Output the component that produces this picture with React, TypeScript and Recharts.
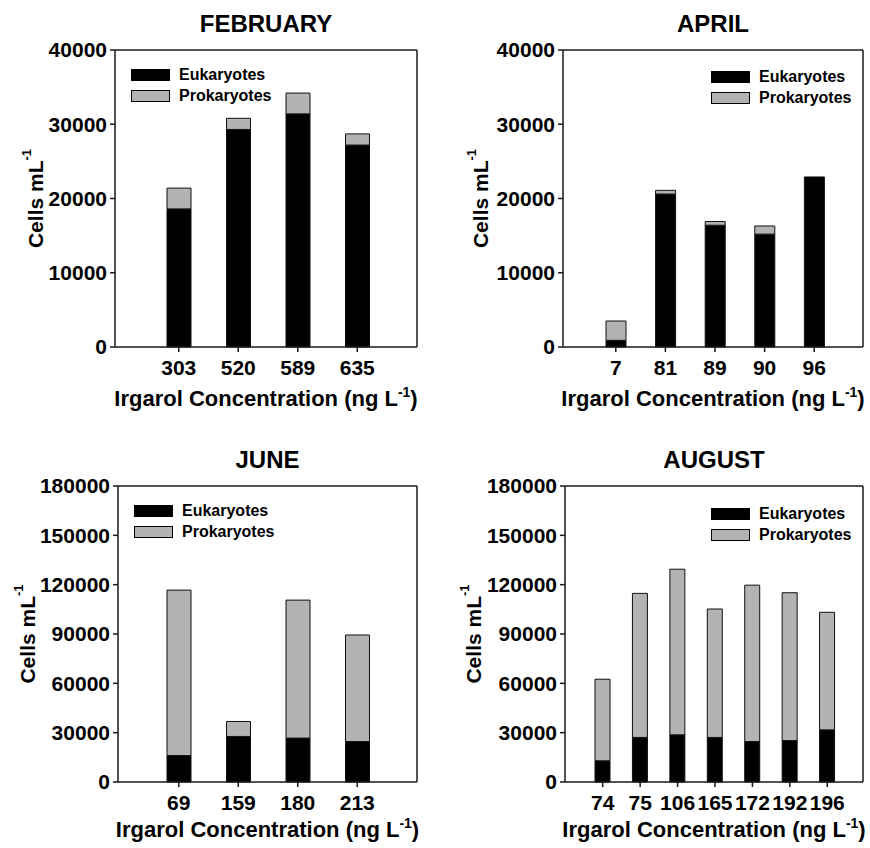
import { BarChart, Bar, XAxis, YAxis, Legend, CartesianGrid } from 'recharts';

// Irgarol concentrations (ng/L) per month, with cell counts (cells/mL)
const febConc = ['303', '520', '589', '635'];
const febEuk = [18600, 29300, 31400, 27200];
const febProk = [2800, 1500, 2800, 1500];

const aprConc = ['7', '81', '89', '90', '96'];
const aprEuk = [900, 20600, 16400, 15200, 22900];
const aprProk = [2600, 500, 500, 1100, 0];

const junConc = ['69', '159', '180', '213'];
const junEuk = [16100, 27700, 26700, 24600];
const junProk = [100600, 9100, 83900, 64800];

const augConc = ['74', '75', '106', '165', '172', '192', '196'];
const augEuk = [12900, 27100, 28700, 27100, 24600, 25200, 31700];
const augProk = [49600, 87600, 100700, 78100, 95100, 89900, 71500];

const smallTicks = [0, 10000, 20000, 30000, 40000];
const bigTicks = [0, 30000, 60000, 90000, 120000, 150000, 180000];

const FONT = '"Liberation Sans", Arial, Helvetica, sans-serif';
const AXIS = '#1a1a1a';
const EUK_FILL = '#000000';
const PROK_FILL = '#b3b3b3';

interface PanelProps {
  title: string;
  conc: string[];
  euk: number[];
  prok: number[];
  ticks: number[];
  yMax: number;
  left: number;
  top: number;
  height: number;
  plotLeft: number;
  plotTop: number;
  plotBottom: number;
  right: number;
  pad: { left: number; right: number };
  barSize: number;
  yLabelOffset: number;
  xLabelDy: number;
  legendPos: { left: number; top: number };
}

function LegendBox({ payload }: any) {
  return (
    <div style={{ fontFamily: FONT, fontWeight: 700, fontSize: 16, color: '#000' }}>
      {(payload || []).map((entry: any) => (
        <div key={entry.value} style={{ display: 'flex', alignItems: 'center', height: 21 }}>
          <span
            style={{
              display: 'inline-block',
              width: 37,
              height: 10,
              background: entry.color,
              border: '1px solid #000',
              marginRight: 9,
            }}
          />
          <span>{entry.value}</span>
        </div>
      ))}
    </div>
  );
}

function Panel(p: PanelProps) {
  const data = p.conc.map((c, i) => ({ conc: c, euk: p.euk[i], prok: p.prok[i] }));
  const xAxisHeight = 60;

  return (
    <div style={{ position: 'absolute', left: p.left, top: p.top }}>
      <BarChart
        width={435}
        height={p.height}
        data={data}
        margin={{ top: p.plotTop, right: p.right, bottom: p.height - p.plotBottom - xAxisHeight, left: 10 }}
      >
        {/* frame: only the plot-area edges, taken from the chart offset */}
        <CartesianGrid
          xAxisId="bottom"
          yAxisId="left"
          stroke={AXIS}
          strokeWidth={1.5}
          horizontalCoordinatesGenerator={({ offset }: any) => [offset.top]}
          verticalCoordinatesGenerator={({ offset }: any) => [offset.left + offset.width]}
        />
        <XAxis
          xAxisId="bottom"
          dataKey="conc"
          height={xAxisHeight}
          interval={0}
          padding={p.pad}
          tickSize={5}
          tickMargin={8}
          tick={{ fill: '#000', fontSize: 21, fontWeight: 700, fontFamily: FONT }}
          axisLine={{ stroke: AXIS, strokeWidth: 1.5 }}
          tickLine={{ stroke: AXIS, strokeWidth: 1.5 }}
          label={(props: any) => {
            const vb = props.viewBox;
            const cx = vb.x + vb.width / 2;
            return (
              <g>
                <text
                  x={cx}
                  y={p.plotTop - 18}
                  textAnchor="middle"
                  fill="#000"
                  fontFamily={FONT}
                  fontWeight={700}
                  fontSize={24}
                >
                  {p.title}
                </text>
                <text
                  x={cx}
                  y={vb.y + p.xLabelDy}
                  textAnchor="middle"
                  fill="#000"
                  fontFamily={FONT}
                  fontWeight={700}
                  fontSize={22}
                >
                  Irgarol Concentration (ng L
                  <tspan dy={-9} fontSize={14}>-1</tspan>
                  <tspan dy={9}>)</tspan>
                </text>
              </g>
            );
          }}
        />
        <YAxis
          yAxisId="left"
          width={p.plotLeft - 10}
          domain={[0, p.yMax]}
          ticks={p.ticks}
          interval={0}
          tickSize={5}
          tickMargin={3}
          tick={{ fill: '#000', fontSize: 21, fontWeight: 700, fontFamily: FONT }}
          axisLine={{ stroke: AXIS, strokeWidth: 1.5 }}
          tickLine={{ stroke: AXIS, strokeWidth: 1.5 }}
          label={(props: any) => {
            const vb = props.viewBox;
            const cx = vb.x + vb.width - p.yLabelOffset;
            const cy = vb.y + vb.height / 2;
            return (
              <text
                x={cx}
                y={cy}
                transform={`rotate(-90, ${cx}, ${cy})`}
                textAnchor="middle"
                dominantBaseline="central"
                fill="#000"
                fontFamily={FONT}
                fontWeight={700}
                fontSize={21}
              >
                Cells mL
                <tspan dy={-9} fontSize={13}>-1</tspan>
              </text>
            );
          }}
        />
        <Legend
          layout="vertical"
          align="center"
          verticalAlign="middle"
          content={<LegendBox />}
          wrapperStyle={{ left: p.legendPos.left, top: p.legendPos.top, width: 'auto', height: 'auto' }}
        />
        <Bar
          xAxisId="bottom"
          yAxisId="left"
          dataKey="euk"
          name="Eukaryotes"
          stackId="cells"
          fill={EUK_FILL}
          stroke="#111"
          strokeWidth={1}
          barSize={p.barSize}
          isAnimationActive={false}
        />
        <Bar
          xAxisId="bottom"
          yAxisId="left"
          dataKey="prok"
          name="Prokaryotes"
          stackId="cells"
          fill={PROK_FILL}
          stroke="#111"
          strokeWidth={1}
          barSize={p.barSize}
          isAnimationActive={false}
        />
      </BarChart>
    </div>
  );
}

export default function App() {
  return (
    <div style={{ position: 'absolute', left: 0, top: 0, width: 870, height: 848, background: '#fff' }}>
      <Panel
        title="FEBRUARY"
        conc={febConc}
        euk={febEuk}
        prok={febProk}
        ticks={smallTicks}
        yMax={40000}
        left={0}
        top={0}
        height={420}
        plotLeft={115}
        plotTop={50}
        plotBottom={347}
        right={18}
        pad={{ left: 34, right: 30 }}
        barSize={24}
        yLabelOffset={80}
        xLabelDy={59}
        legendPos={{ left: 131, top: 64 }}
      />
      <Panel
        title="APRIL"
        conc={aprConc}
        euk={aprEuk}
        prok={aprProk}
        ticks={smallTicks}
        yMax={40000}
        left={435}
        top={0}
        height={420}
        plotLeft={128}
        plotTop={50}
        plotBottom={347}
        right={7}
        pad={{ left: 28, right: 24 }}
        barSize={20}
        yLabelOffset={83}
        xLabelDy={59}
        legendPos={{ left: 276, top: 66 }}
      />
      <Panel
        title="JUNE"
        conc={junConc}
        euk={junEuk}
        prok={junProk}
        ticks={bigTicks}
        yMax={180000}
        left={0}
        top={420}
        height={428}
        plotLeft={118}
        plotTop={66}
        plotBottom={362}
        right={18}
        pad={{ left: 31, right: 30 }}
        barSize={24}
        yLabelOffset={91}
        xLabelDy={55}
        legendPos={{ left: 134, top: 80 }}
      />
      <Panel
        title="AUGUST"
        conc={augConc}
        euk={augEuk}
        prok={augProk}
        ticks={bigTicks}
        yMax={180000}
        left={435}
        top={420}
        height={428}
        plotLeft={130}
        plotTop={66}
        plotBottom={362}
        right={7}
        pad={{ left: 19, right: 17 }}
        barSize={15}
        yLabelOffset={92}
        xLabelDy={55}
        legendPos={{ left: 276, top: 83 }}
      />
    </div>
  );
}
